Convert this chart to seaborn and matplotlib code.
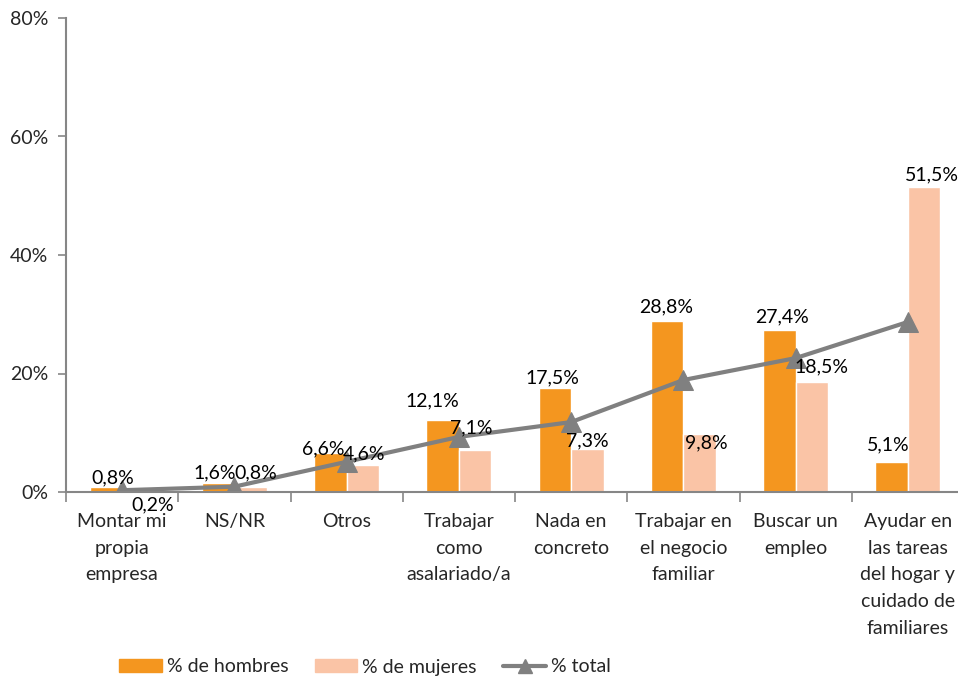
import matplotlib
matplotlib.use("Agg")
import matplotlib.pyplot as plt
import seaborn as sns
import pandas as pd
import numpy as np
from matplotlib.patches import Patch
from matplotlib.lines import Line2D

categories = ["Montar mi\npropia\nempresa", "NS/NR", "Otros", "Trabajar\ncomo\nasalariado/a",
              "Nada en\nconcreto", "Trabajar en\nel negocio\nfamiliar", "Buscar un\nempleo",
              "Ayudar en\nlas tareas\ndel hogar y\ncuidado de\nfamiliares"]
hombres = [0.8, 1.6, 6.6, 12.1, 17.5, 28.8, 27.4, 5.1]
mujeres = [0.2, 0.8, 4.6, 7.1, 7.3, 9.8, 18.5, 51.5]
total = [0.3, 0.9, 5.1, 9.3, 11.8, 18.9, 22.6, 28.7]
series_names = ["% de hombres", "% de mujeres", "% total"]
yticks = [0, 20, 40, 60, 80]

sns.set_theme(style="white")
plt.rcParams['font.family'] = ['Lato', 'DejaVu Sans']
FS = 14

fig = plt.figure(figsize=(9.58, 6.79), dpi=100)
ax = fig.add_axes([66/958, 187/679, 898/958, 474/679])

df = pd.DataFrame({
    "cat": categories * 2,
    "val": hombres + mujeres,
    "serie": [series_names[0]] * len(categories) + [series_names[1]] * len(categories),
})
c_h = "#F4961F"
c_m = "#FAC4A6"
c_t = "#808080"
sns.barplot(data=df, x="cat", y="val", hue="serie", palette=[c_h, c_m],
            width=0.58, gap=0, saturation=1, ax=ax, legend=False, errorbar=None)
sns.lineplot(x=np.arange(len(categories)), y=total, color=c_t, lw=3.0, marker="^",
             markersize=14, markeredgecolor=c_t, ax=ax, legend=False)

ax.set_xlim(-0.5, 7.5)
ax.set_ylim(0, 80)
ax.set_yticks(yticks)
ax.set_yticklabels([f"{v}%" for v in yticks], fontsize=FS)
ax.set_xticks(np.arange(len(categories)))
ax.set_xticklabels(categories, fontsize=FS, linespacing=1.7, va="top")
ax.set_xlabel("")
ax.set_ylabel("")
for s in ["top", "right"]:
    ax.spines[s].set_visible(False)
for s in ["left", "bottom"]:
    ax.spines[s].set_color("#868686")
    ax.spines[s].set_linewidth(1.5)
ax.tick_params(axis="y", left=True, length=6, color="#868686", width=1.2, pad=7)
ax.tick_params(axis="x", bottom=False, pad=9)
ax.set_xticks(np.arange(-0.5, 8, 1), minor=True)
ax.tick_params(axis="x", which="minor", bottom=True, length=7, color="#868686", width=1.2)

def fmt(v):
    return f"{v:.1f}%".replace(".", ",")

# label offsets in pixels (dx, dy) from bar top
off_h = [(7, 9), (-3, 10), (-7, 4), (-10, 19), (-2, 10), (-1, 14), (3, 13), (-3, 17)]
off_m = [(14, -14), (5, 14), (1, 11), (-4, 22), (0, 8), (7, -9), (10, 16), (8, 12)]
bw = 0.29
for i in range(len(categories)):
    ax.annotate(fmt(hombres[i]), (i - bw / 2, hombres[i]), xytext=off_h[i], textcoords="offset pixels",
                ha="center", va="center", fontsize=FS, color="black")
    ax.annotate(fmt(mujeres[i]), (i + bw / 2, mujeres[i]), xytext=off_m[i], textcoords="offset pixels",
                ha="center", va="center", fontsize=FS, color="black")

handles = [Patch(color=c_h), Patch(color=c_m),
           Line2D([0], [0], color=c_t, lw=3.0, marker="^", markersize=10)]
fig.legend(handles, series_names, loc="center left", bbox_to_anchor=(119/958, 1 - 667/679), ncol=3,
           frameon=False, fontsize=FS, handlelength=2.2, handleheight=0.6, columnspacing=1.36,
           handletextpad=0.25, borderpad=0, borderaxespad=0)

fig.savefig("out.png", dpi=100)
